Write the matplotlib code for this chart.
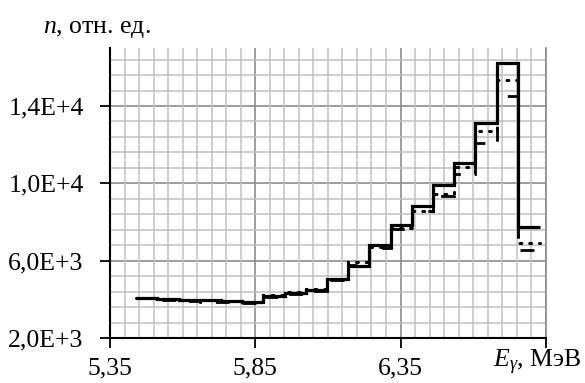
import matplotlib
matplotlib.use("Agg")
import matplotlib.pyplot as plt
from matplotlib.ticker import MultipleLocator, FixedLocator

# Bin edges (MeV)
edges = [5.440, 5.513, 5.586, 5.659, 5.732, 5.805, 5.878, 5.951, 6.024, 6.097,
         6.170, 6.243, 6.316, 6.389, 6.462, 6.535, 6.608, 6.681, 6.756, 6.829]

solid = [4050, 4000, 3960, 3950, 3900, 3850, 4150, 4350, 4500, 5050,
         5720, 6810, 7870, 8820, 9900, 11060, 13100, 16200, 7720]
dotted = [4050, 4000, 3960, 3950, 3900, 3880, 4200, 4400, 4550, 5050,
          5950, 6720, 7670, 8580, 9440, 10820, 12700, 15330, 6930]
dashed = [4050, 3980, 3920, 3880, 3850, 3830, 4100, 4300, 4450, 5000,
          5770, 6640, 7650, 8550, 9370, 10480, 12060, 14500, 6550]

x_major = [5.35, 5.85, 6.35]
x_labels = ["5,35", "5,85", "6,35"]
y_major = [2000, 6000, 10000, 14000]
y_labels = ["2,0E+3", "6,0E+3", "1,0E+4", "1,4E+4"]

plt.rcParams['font.family'] = ['Liberation Serif', 'DejaVu Serif']
plt.rcParams['mathtext.fontset'] = 'custom'
plt.rcParams['mathtext.rm'] = 'Liberation Serif'
plt.rcParams['mathtext.it'] = 'Liberation Serif:italic'

fig = plt.figure(figsize=(5.85, 3.83), dpi=100)
ax = fig.add_axes([0.188, 0.1175, 0.745, 0.7572])

ax.set_xlim(5.35, 6.85)
ax.set_ylim(2000, 17000)

# grid
ax.xaxis.set_minor_locator(MultipleLocator(0.05))
ax.yaxis.set_minor_locator(FixedLocator([2000 + 800 * k for k in range(1, 19)]))
ax.grid(which='minor', color='#c0c0c0', linewidth=1.1, zorder=0)
for xv in [5.85, 6.35, 6.85]:
    ax.axvline(xv, color='#8c8c8c', linewidth=1.2, zorder=0.5)
for yv in [6000, 10000, 14000]:
    ax.axhline(yv, color='#8c8c8c', linewidth=1.2, zorder=0.5)

ax.stairs(dashed, edges, baseline=None, color='black', linewidth=2.0,
          linestyle=(0, (5, 5)), zorder=3)
ax.stairs(dotted, edges, baseline=None, color='black', linewidth=2.2,
          linestyle=(0, (0.6, 2.6)), zorder=3, capstyle='round')
ax.stairs(solid, edges, baseline=None, color='black', linewidth=2.3, zorder=4)

ax.xaxis.set_major_locator(FixedLocator(x_major + [6.85]))
ax.set_xticklabels(x_labels + [""])
ax.yaxis.set_major_locator(FixedLocator(y_major))
ax.set_yticklabels(y_labels)
ax.tick_params(which='major', direction='out', length=7, width=1.3,
               labelsize=18.5, color='black')
ax.tick_params(axis='x', which='major', pad=7)
ax.tick_params(axis='y', which='major', pad=12)
ax.tick_params(which='minor', length=0)

ax.spines['top'].set_visible(False)
ax.spines['right'].set_color('#8c8c8c')
ax.spines['right'].set_linewidth(1.2)
ax.spines['left'].set_linewidth(1.5)
ax.spines['bottom'].set_linewidth(1.5)

fig.text(0.074, 0.915, r"$n$, отн. ед.", fontsize=18.5, ha='left', va='baseline')
fig.text(0.842, 0.04, r"$E_\gamma$, МэВ", fontsize=18.5, ha='left', va='baseline')

fig.savefig("out.png", dpi=100)
